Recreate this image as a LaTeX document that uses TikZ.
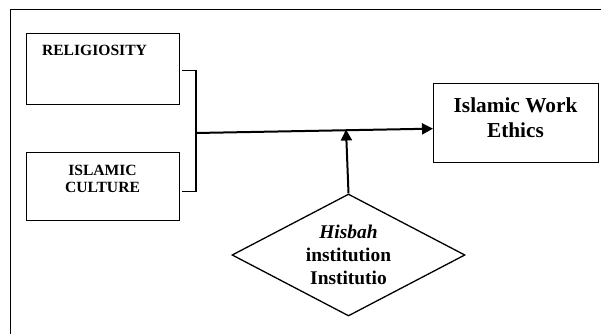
\documentclass[tikz,border=0pt]{standalone}
\usepackage{fontspec}
\setmainfont{Liberation Serif}
\usetikzlibrary{shapes.geometric,arrows.meta}
\begin{document}
\begin{tikzpicture}[x=1pt,y=-1pt,
  box/.style={draw,line width=1.3pt,rectangle,inner sep=0pt,anchor=north west},
  lbl/.style={inner sep=0pt,align=center,font=\bfseries},
  conn/.style={line width=1.4pt},
  arr/.style={line width=2pt,-{Triangle[length=11pt,width=11pt]}}]
\useasboundingbox (0,0) rectangle (601,334);
% frame
\draw[line width=0.9pt] (10,334) -- (10,9.5) -- (601,9.5);
% boxes
\node[box,minimum width=153pt,minimum height=71pt] (rel) at (26,33) {};
\node[box,minimum width=153pt,minimum height=68pt] (cul) at (26,152) {};
\node[box,minimum width=165pt,minimum height=79pt] (iwe) at (433,83) {};
% labels
\node[lbl,anchor=base,font=\bfseries\fontsize{15.6}{17.5}\selectfont] (relt) at (94.5,55.5) {RELIGIOSITY};
\node[lbl,font=\bfseries\fontsize{15.6}{17.5}\selectfont] (cult) at (102.5,179) {ISLAMIC\\CULTURE};
\node[lbl,font=\bfseries\fontsize{21.3}{25}\selectfont] (iwet) at (515.5,118) {Islamic Work\\Ethics};
% diamond
\node[draw,diamond,aspect=1.91,inner sep=0pt,line width=1.3pt,minimum width=233pt,minimum height=122pt,
      align=center,font=\bfseries\fontsize{19.4}{23}\selectfont] (hisbah) at (348.5,255)
      {\textit{Hisbah}\\institution\\Institutio};
% bracket
\coordinate (j) at (196,133);
\coordinate (m) at (346,129.5);
\coordinate (b1) at ([shift={(2,1.5)}]rel.east);
\coordinate (b2) at ([shift={(2,5)}]cul.east);
\draw[conn] (b1) -- (j |- b1) |- (b2);
% arrows
\draw[arr] (j) -- ([yshift=-5.5pt]iwe.west);
\draw[arr] (hisbah.north) -- (m);
\end{tikzpicture}
\end{document}
